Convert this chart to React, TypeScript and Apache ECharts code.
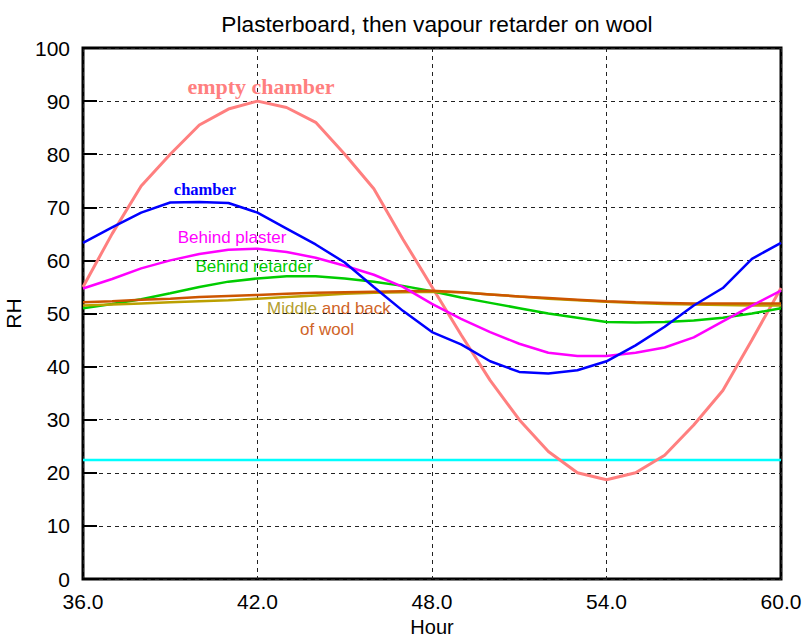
import React, { useEffect, useRef } from "react";
import * as echarts from "echarts";

const hours = [36, 37, 38, 39, 40, 41, 42, 43, 44, 45, 46, 47, 48, 49, 50, 51, 52, 53, 54, 55, 56, 57, 58, 59, 60];

const emptyChamber = [55, 65, 74, 80, 85.5, 88.5, 90, 88.8, 86, 80, 73.5, 64, 55, 46, 37.4, 30, 24, 20, 18.7, 20, 23.3, 29, 35.5, 45, 54.8];
const chamber = [63.3, 66.2, 69, 70.9, 71, 70.8, 69, 66, 63, 59.6, 55, 50.5, 46.5, 44.2, 41, 39, 38.7, 39.3, 41, 44, 47.5, 51.5, 54.8, 60.3, 63.3];
const behindPlaster = [54.7, 56.5, 58.5, 60, 61.2, 62, 62.2, 61.6, 60.5, 59, 57.3, 55, 51.8, 49, 46.5, 44.3, 42.6, 42, 42, 42.6, 43.6, 45.5, 48.5, 51.5, 54.3];
const behindRetarder = [51, 51.8, 52.7, 53.8, 55, 56, 56.6, 57, 57, 56.6, 56, 55.2, 54.2, 53, 52, 51, 50, 49.2, 48.4, 48.3, 48.4, 48.7, 49.2, 50, 51];
const middleOfWool = [51.5, 51.7, 51.9, 52.1, 52.3, 52.5, 52.8, 53.1, 53.4, 53.7, 53.9, 54, 54.1, 54, 53.6, 53.2, 52.8, 52.5, 52.2, 52, 51.8, 51.7, 51.6, 51.5, 51.5];
const backOfWool = [52.1, 52.3, 52.6, 52.8, 53.1, 53.3, 53.5, 53.7, 53.9, 54, 54.1, 54.2, 54.3, 54, 53.6, 53.2, 52.9, 52.6, 52.3, 52.1, 52, 51.9, 51.9, 51.9, 51.9];
const outdoorHours = [36, 60];
const outdoor = [22.4, 22.4];

const xTicks = [36, 42, 48, 54, 60];
const yTicks = [0, 10, 20, 30, 40, 50, 60, 70, 80, 90, 100];

const pairs = (xs: number[], ys: number[]) => xs.map((x, i) => [x, ys[i]]);

export default function App() {
  const ref = useRef<HTMLDivElement>(null);
  useEffect(() => {
    if (!ref.current) return;
    const chart = echarts.init(ref.current, null, { renderer: "svg" });
    const sans = "'Liberation Sans', Arial, sans-serif";
    const serif = "'Liberation Serif', 'Times New Roman', serif";
    const line = (name: string, xs: number[], ys: number[], color: string, width = 2.5) => ({
      name,
      type: "line",
      data: pairs(xs, ys),
      showSymbol: false,
      symbol: "none",
      lineStyle: { color, width },
      itemStyle: { color },
      z: 3,
    });
    chart.setOption({
      animation: false,
      backgroundColor: "#ffffff",
      title: {
        text: "Plasterboard, then vapour retarder on wool",
        left: 432,
        top: 7,
        textAlign: "center",
        textStyle: { fontFamily: sans, fontSize: 22.7, fontWeight: "normal", color: "#000" },
      },
      grid: {
        left: 83,
        right: 23,
        top: 48,
        bottom: 56,
        outerBoundsMode: "none",
        containLabel: false,
        show: true,
        borderColor: "#000",
        borderWidth: 3,
        backgroundColor: "transparent",
      },
      xAxis: {
        type: "value",
        min: xTicks[0],
        max: xTicks[xTicks.length - 1],
        interval: 6,
        name: "Hour",
        nameLocation: "middle",
        nameGap: 33,
        nameTextStyle: { fontFamily: sans, fontSize: 20, color: "#000" },
        axisLine: { show: false },
        axisTick: { show: false },
        axisLabel: {
          fontFamily: sans,
          fontSize: 21,
          color: "#000",
          margin: 12,
          formatter: (v: number) => v.toFixed(1),
        },
        splitLine: { show: true, lineStyle: { color: "#222", type: [4, 4], width: 1 } },
      },
      yAxis: {
        type: "value",
        min: yTicks[0],
        max: yTicks[yTicks.length - 1],
        interval: 10,
        name: "RH",
        nameLocation: "middle",
        nameGap: 58,
        nameRotate: 90,
        nameTextStyle: { fontFamily: sans, fontSize: 21, color: "#000" },
        axisLine: { show: false },
        axisTick: { show: true, inside: true, length: 14, lineStyle: { color: "#000", width: 2 } },
        axisLabel: { fontFamily: sans, fontSize: 21, color: "#000", margin: 13 },
        splitLine: { show: true, lineStyle: { color: "#222", type: [4, 4], width: 1 } },
      },
      series: [
        line("outdoor", outdoorHours, outdoor, "#00ffff", 2.5),
        line("empty chamber", hours, emptyChamber, "#ff7f7f", 3),
        line("Behind retarder", hours, behindRetarder, "#00cc00"),
        line("Middle of wool", hours, middleOfWool, "#bba000"),
        line("Back of wool", hours, backOfWool, "#cc5500"),
        line("Behind plaster", hours, behindPlaster, "#ff00ff"),
        line("chamber", hours, chamber, "#0000ff"),
      ],
      graphic: [
        {
          type: "text",
          x: 261,
          y: 86,
          style: {
            text: "empty chamber",
            fill: "#ff7f7f",
            font: `bold 22px ${serif}`,
            textAlign: "center",
            textVerticalAlign: "middle",
          },
        },
        {
          type: "text",
          x: 205,
          y: 189,
          style: {
            text: "chamber",
            fill: "#0000ff",
            font: `bold 16.5px ${serif}`,
            textAlign: "center",
            textVerticalAlign: "middle",
          },
        },
        {
          type: "text",
          x: 232,
          y: 237,
          style: {
            text: "Behind plaster",
            fill: "#ff00ff",
            font: `17px ${sans}`,
            textAlign: "center",
            textVerticalAlign: "middle",
          },
        },
        {
          type: "text",
          x: 254,
          y: 266,
          style: {
            text: "Behind retarder",
            fill: "#00cc00",
            font: `17px ${sans}`,
            textAlign: "center",
            textVerticalAlign: "middle",
          },
        },
        {
          type: "text",
          x: 267,
          y: 308,
          style: {
            text: "{a|Middle }{b|and back}",
            rich: {
              a: { fill: "#b5a030", fontFamily: sans, fontSize: 17 },
              b: { fill: "#d06428", fontFamily: sans, fontSize: 17 },
            },
            textAlign: "left",
            textVerticalAlign: "middle",
          },
        },
        {
          type: "text",
          x: 327,
          y: 329,
          style: {
            text: "of wool",
            fill: "#d06428",
            font: `17px ${sans}`,
            textAlign: "center",
            textVerticalAlign: "middle",
          },
        },
      ],
    });
    return () => chart.dispose();
  }, []);
  return (
    <div
      ref={ref}
      style={{ position: "fixed", left: 0, top: 0, width: 804, height: 635, background: "#fff" }}
    />
  );
}
